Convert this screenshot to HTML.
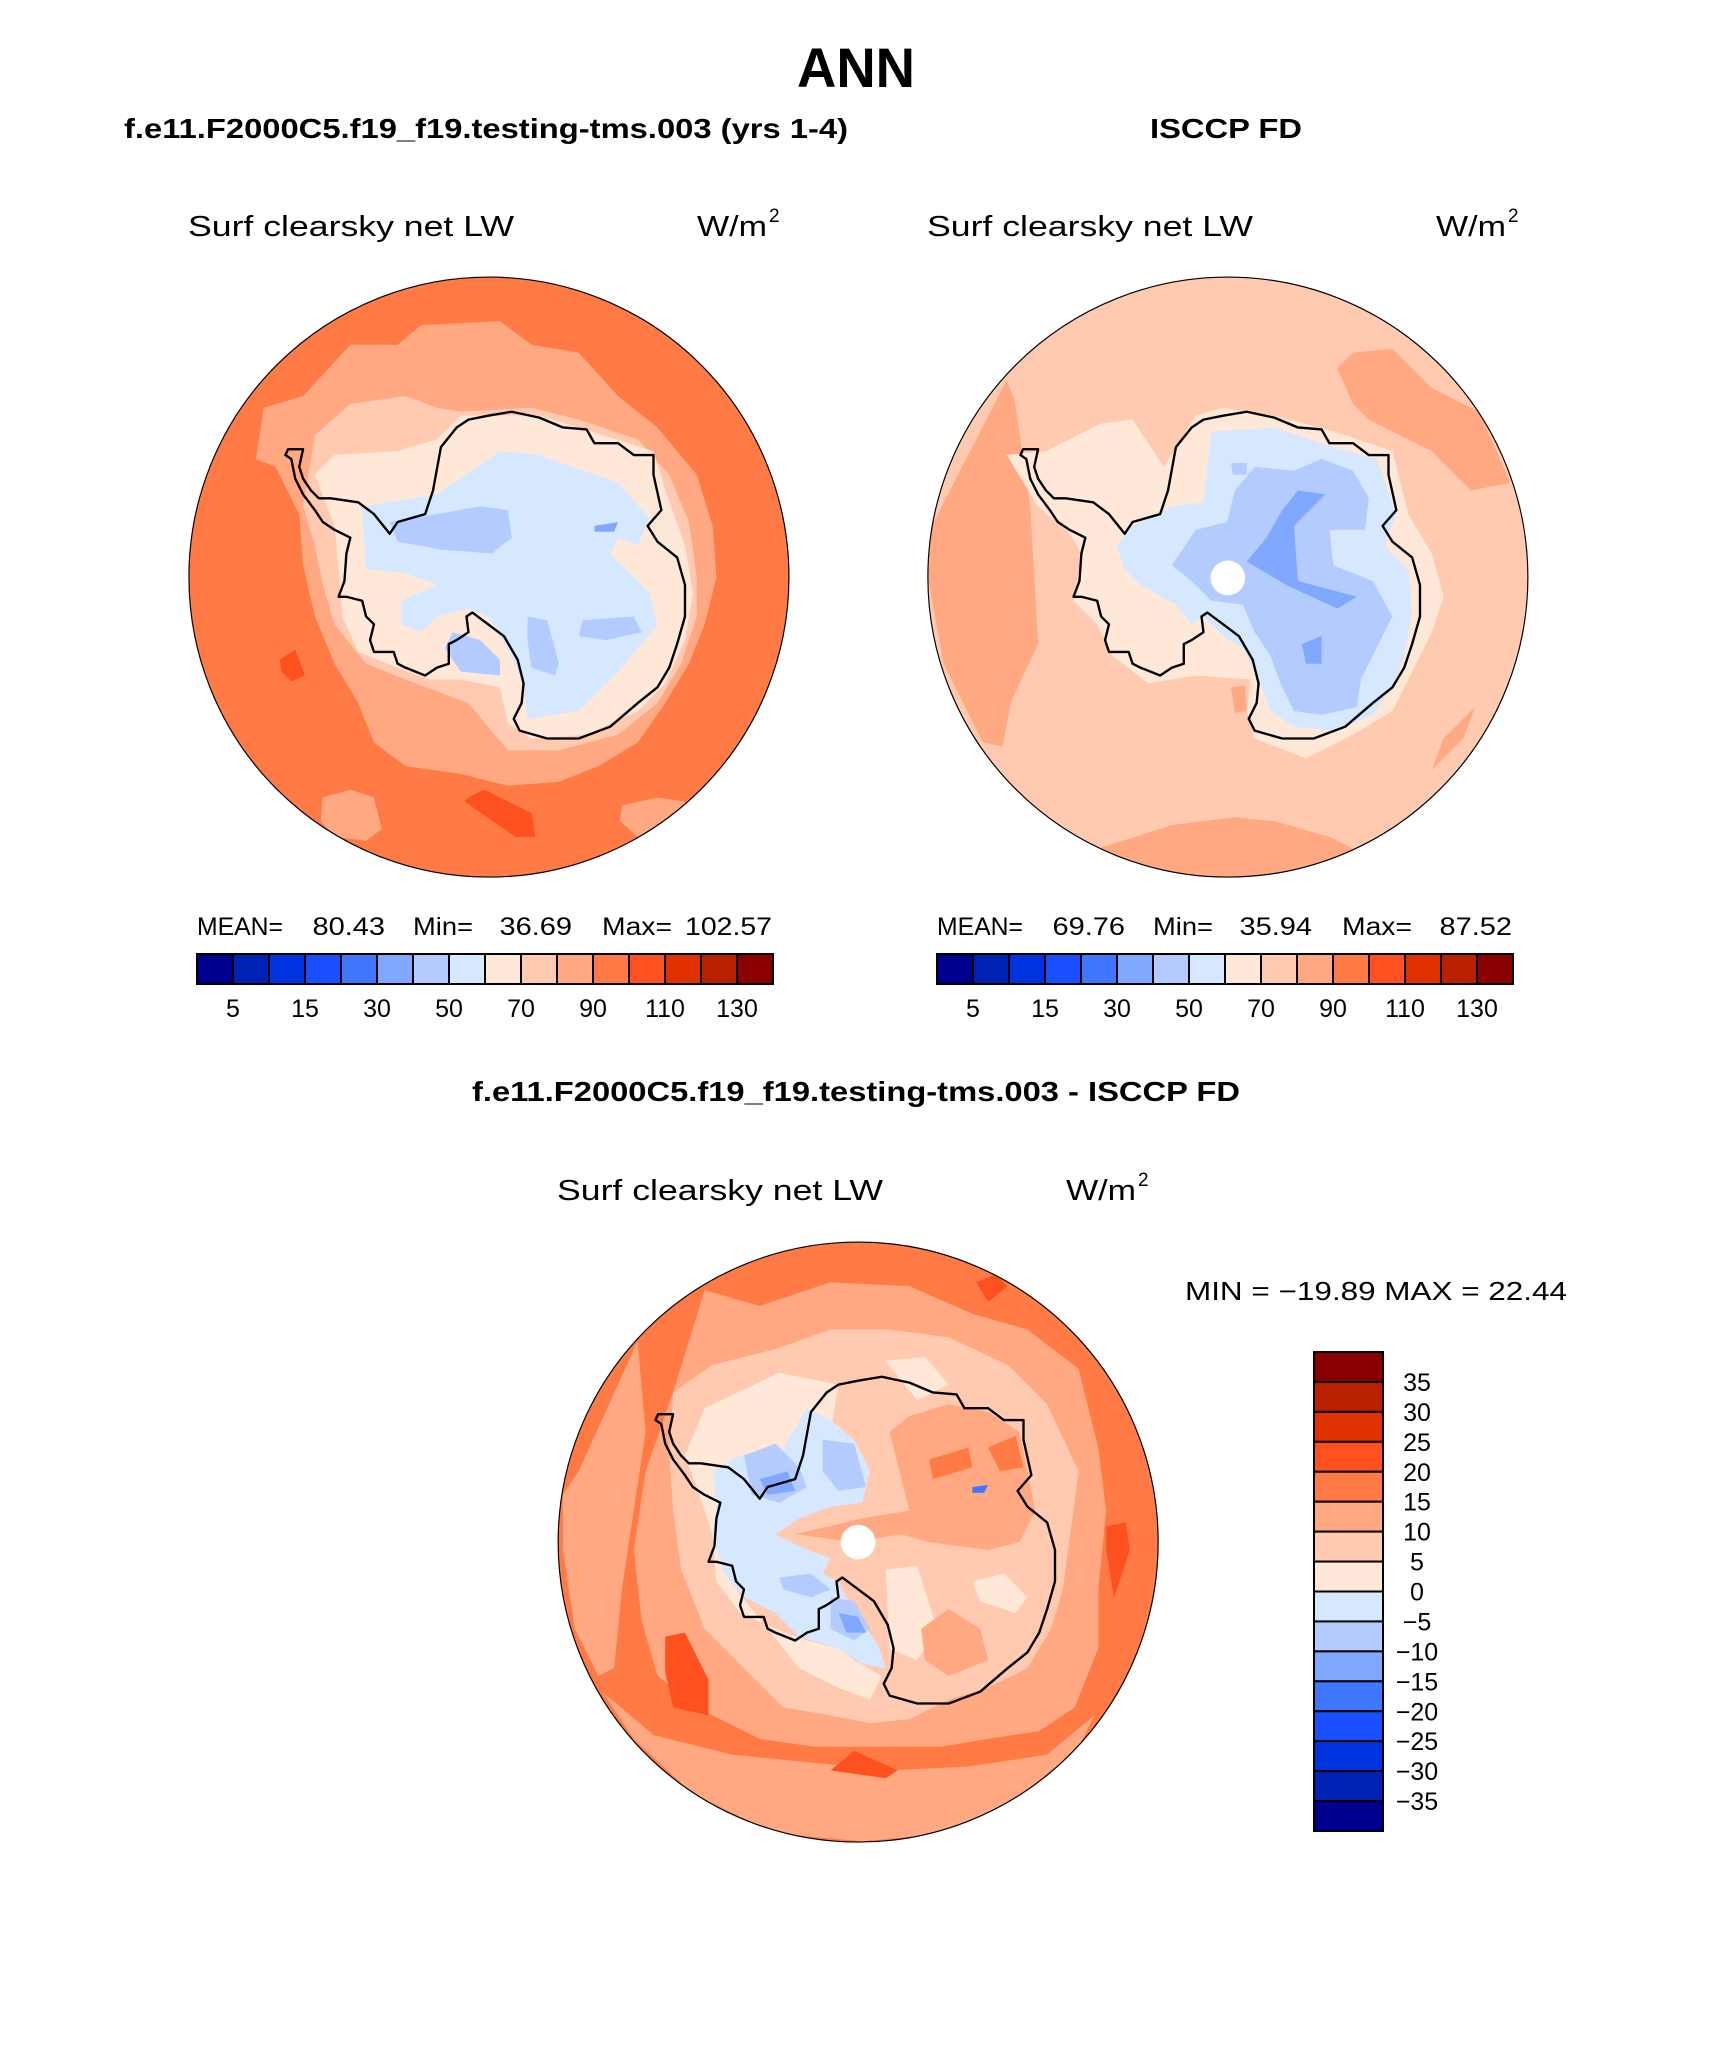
<!DOCTYPE html>
<html><head><meta charset="utf-8">
<style>
html,body{margin:0;padding:0;background:#fff;}
svg{display:block;}
text{font-family:"Liberation Sans",sans-serif;fill:#000;}
</style></head>
<body>
<svg id="fig" width="1710" height="2061" viewBox="0 0 1710 2061" xmlns="http://www.w3.org/2000/svg">
<rect width="1710" height="2061" fill="#fff"/>
<text x="856" y="87" font-size="56" font-weight="bold" text-anchor="middle" textLength="118" lengthAdjust="spacingAndGlyphs">ANN</text>
<text x="124" y="138" font-size="28" font-weight="bold" textLength="724" lengthAdjust="spacingAndGlyphs">f.e11.F2000C5.f19_f19.testing-tms.003 (yrs 1-4)</text>
<text x="1226" y="138" font-size="28" font-weight="bold" text-anchor="middle" textLength="152" lengthAdjust="spacingAndGlyphs">ISCCP FD</text>
<text x="856" y="1101" font-size="28" font-weight="bold" text-anchor="middle" textLength="768" lengthAdjust="spacingAndGlyphs">f.e11.F2000C5.f19_f19.testing-tms.003 - ISCCP FD</text>
<g id="maps"></g>
<g id="bars"></g>
</svg>
<script>
// ---- colorbar data ----
const colors = ["#000090","#0022b4","#0033e0","#1a4fff","#4077ff","#80a8ff","#b3cbff","#d6e8ff","#ffe8d8","#ffcab0","#ffa882","#ff7a45","#ff5020","#e03200","#b82000","#8a0000"];
const absTickLabels = ["5","15","30","50","70","90","110","130"];
const diffTickLabels = ["35","30","25","20","15","10","5","0","\u22125","\u221210","\u221215","\u221220","\u221225","\u221230","\u221235"];
const leftStats = ["80.43","36.69","102.57"];
const rightStats = ["69.76","35.94","87.52"];
const diffStats = ["\u221219.89","22.44"];

const NS="http://www.w3.org/2000/svg";
function mk(tag,attrs,parent){const e=document.createElementNS(NS,tag);for(const k in attrs)e.setAttribute(k,attrs[k]);parent.appendChild(e);return e;}
function txt(parent,x,y,s,size,anchor,len){const t=mk("text",{x:x,y:y,"font-size":size,"text-anchor":anchor||"start"},parent);if(len){t.setAttribute("textLength",len);t.setAttribute("lengthAdjust","spacingAndGlyphs");}t.textContent=s;return t;}

// coastline in local map coordinates (2.54 px per page px)
const coast=[[255,470],[262,455],[300,455],[290,500],[300,530],[320,560],[340,580],[370,580],[440,590],[480,620],[520,670],[540,640],[610,620],[630,560],[650,450],[690,400],[720,380],[770,370],[830,360],[900,375],[960,400],[1020,405],[1040,440],[1100,440],[1140,470],[1190,470],[1190,520],[1210,610],[1175,650],[1200,690],[1250,730],[1270,800],[1270,880],[1250,950],[1230,1010],[1200,1060],[1150,1100],[1080,1160],[1000,1190],[920,1190],[850,1170],[835,1140],[855,1100],[860,1050],[845,990],[810,930],[770,900],[730,870],[715,880],[720,920],[690,940],[670,950],[670,1000],[640,1010],[610,1030],[560,1010],[540,1000],[530,970],[480,970],[470,940],[480,900],[460,880],[450,840],[410,830],[390,830],[405,790],[410,720],[420,680],[380,660],[350,640],[330,610],[300,570],[280,530],[270,480]];

const P=s=>s.trim().split(/\s+/).map(p=>p.split(",").map(Number));
const maps=[
 {name:"model-map",ox:185,oy:270,cx:772,cy:780,base:11,hole:false,layers:[
  [10,"180,480 200,350 300,320 420,190 540,190 600,140 800,130 880,190 1000,210 1100,320 1200,400 1300,520 1340,650 1350,780 1320,900 1280,1000 1220,1100 1150,1200 1050,1260 950,1300 820,1310 700,1280 560,1260 480,1200 440,1100 380,1000 330,880 300,750 290,620 230,500"],
  [10,"350,1340 420,1320 480,1340 500,1420 460,1450 380,1440 345,1400"],
  [10,"1110,1360 1200,1340 1270,1350 1260,1420 1150,1440 1105,1400"],
  [12,"240,990 280,965 305,1030 270,1045 245,1020"],
  [12,"720,1340 760,1320 880,1380 890,1440 840,1440 710,1350"],
  [9,"330,420 420,340 560,320 640,350 700,360 880,350 1000,380 1150,430 1230,520 1280,640 1300,780 1300,880 1260,1000 1200,1100 1100,1180 950,1220 820,1220 720,1100 560,1040 460,1000 380,900 350,800 330,700 300,600"],
  [8,"330,520 380,470 540,460 640,430 700,370 900,370 1030,410 1190,460 1220,560 1270,700 1290,820 1270,940 1220,1050 1150,1120 1020,1180 880,1190 820,1150 800,1060 700,1040 620,1040 540,1010 440,970 400,880 390,760 380,650"],
  [7,"450,600 640,570 800,460 900,470 1100,540 1180,630 1150,700 1100,680 1080,720 1180,820 1200,900 1160,950 1100,1020 1000,1120 870,1140 860,1060 830,980 770,880 720,860 640,880 600,920 550,900 550,840 640,800 560,770 460,760"],
  [6,"520,640 640,620 750,600 820,610 830,680 780,720 650,710 540,690"],
  [6,"870,880 920,890 950,1000 940,1030 880,1010 870,940"],
  [6,"1010,890 1140,880 1160,920 1070,940 1000,930"],
  [6,"680,920 750,940 800,990 800,1030 700,1020 660,960"],
  [5,"1040,650 1100,640 1090,665 1040,665"]
 ]},
 {name:"obs-map",ox:920,oy:270,cx:782,cy:780,base:9,hole:true,hx:782,hy:782,layers:[
  [10,"30,650 220,280 240,330 280,600 300,950 230,1100 210,1210 160,1200 60,1000 20,780"],
  [10,"1060,250 1100,210 1200,200 1300,300 1420,360 1500,540 1400,560 1300,460 1140,380 1100,340"],
  [10,"450,1470 640,1410 800,1390 900,1400 1040,1440 1100,1470 900,1560 600,1560"],
  [10,"790,1060 825,1055 830,1120 800,1125"],
  [10,"1300,1270 1330,1190 1410,1110 1380,1190"],
  [8,"220,470 320,460 460,390 540,380 620,500 700,370 770,350 900,370 1050,410 1200,460 1240,620 1300,720 1330,830 1300,920 1260,1000 1200,1120 1100,1180 980,1240 850,1190 830,1120 840,1040 700,1030 580,1050 490,980 450,900 390,840 410,720 380,670 300,600"],
  [7,"500,700 540,650 640,600 720,590 740,410 900,400 1050,450 1160,480 1210,620 1180,700 1240,760 1250,870 1230,980 1200,1060 1150,1130 1050,1170 950,1160 890,1120 860,1040 820,960 770,930 720,880 690,900 650,850 560,800 520,760"],
  [6,"640,750 700,660 780,640 800,560 850,500 950,510 1020,480 1100,510 1140,580 1130,660 1040,660 1050,750 1150,790 1200,880 1160,960 1120,1040 1110,1110 1020,1130 950,1120 920,1060 890,980 850,920 820,850 740,840 690,790"],
  [6,"790,490 830,490 830,520 795,520"],
  [5,"920,610 960,560 1030,570 950,650 960,790 1110,830 1060,860 930,800 830,740 880,680"],
  [5,"970,950 1020,930 1020,1000 980,1000"]
 ]},
 {name:"diff-map",ox:555,oy:1235,cx:770,cy:780,base:11,hole:true,hx:770,hy:780,layers:[
  [10,"20,660 60,600 210,270 230,500 200,700 170,900 150,1100 110,1120 50,1000 20,800"],
  [10,"300,400 380,140 520,180 700,120 900,130 1060,200 1200,240 1330,340 1380,540 1400,700 1380,900 1380,1050 1320,1200 1230,1260 1100,1280 980,1300 820,1300 660,1300 520,1280 380,1210 260,1120 220,980 200,800 230,600"],
  [10,"120,1160 250,1270 450,1320 650,1340 850,1360 1050,1350 1250,1320 1370,1220 1330,1300 1200,1420 1000,1520 780,1540 560,1520 350,1420 200,1280"],
  [12,"1070,120 1120,100 1150,130 1100,170"],
  [12,"280,1020 330,1010 390,1130 390,1220 300,1200 280,1110"],
  [12,"700,1360 760,1310 870,1360 840,1380"],
  [12,"1400,740 1450,730 1460,800 1420,920 1400,800"],
  [9,"300,400 400,330 560,290 700,240 850,240 1000,260 1150,330 1250,430 1330,600 1310,750 1290,900 1260,1000 1200,1100 1100,1150 1000,1180 900,1230 800,1240 700,1220 580,1200 480,1100 380,1000 320,850 300,700 290,550"],
  [8,"380,440 570,350 720,380 700,500 620,600 560,680 500,720 480,800 460,900 540,1000 620,1100 720,1150 800,1180 830,1120 760,1080 720,1050 640,1030 560,1000 470,960 410,880 400,760 360,640 330,560"],
  [8,"840,320 940,310 1000,380 920,420"],
  [8,"1060,880 1140,860 1200,920 1170,960 1080,930"],
  [8,"980,640 1090,600 1160,700 1120,740 1000,730"],
  [8,"840,850 920,840 970,1000 920,1080 850,1050"],
  [10,"850,500 900,700 780,720 610,760 760,780 880,760 950,780 1100,800 1180,780 1220,700 1180,500 1100,450 1000,430 900,460"],
  [10,"930,1000 1000,950 1080,1000 1100,1080 1000,1120 940,1080"],
  [11,"950,570 1050,540 1060,590 960,620"],
  [11,"1100,540 1170,510 1190,590 1130,600"],
  [7,"400,600 470,560 580,540 640,440 700,470 760,520 800,600 780,680 700,690 620,720 560,760 640,800 700,820 680,860 720,880 760,960 820,1040 840,1100 780,1090 720,1050 620,1020 560,960 480,920 430,860 400,760 410,680"],
  [6,"480,560 560,530 620,590 640,640 570,680 500,660"],
  [6,"680,520 760,530 790,640 720,650 680,600"],
  [6,"570,870 650,860 700,900 650,920 580,900"],
  [6,"700,920 760,930 800,1000 760,1030 700,1000"],
  [5,"520,620 590,600 610,650 540,660"],
  [5,"720,960 770,970 790,1010 740,1010"],
  [4,"1060,640 1100,635 1090,655 1060,655"]
 ]}
];

const mg=document.getElementById("maps");
const R=762;
maps.forEach((m,i)=>{
  const g=mk("g",{transform:`translate(${m.ox},${m.oy}) scale(${1/2.54})`},mg);
  
  
  const cp=mk("clipPath",{id:"clip"+i},g);
  mk("circle",{cx:m.cx,cy:m.cy,r:R},cp);
  const inner=mk("g",{"clip-path":`url(#clip${i})`},g);
  mk("circle",{cx:m.cx,cy:m.cy,r:R,fill:colors[m.base]},inner);
  m.layers.forEach(([ci,pts])=>{
    const poly=mk("polygon",{points:P(pts).map(p=>p.join(",")).join(" "),fill:colors[ci]},inner);
    
    
  });
  const c=mk("polygon",{points:coast.map(p=>p.join(",")).join(" "),fill:"none",stroke:"#000","stroke-width":6,"stroke-linejoin":"round"},inner);
  
  
  if(m.hole){const h=mk("circle",{cx:m.hx,cy:m.hy,r:44,fill:"#fff"},inner);
    
    }
  const b=mk("circle",{cx:m.cx,cy:m.cy,r:R,fill:"none",stroke:"#000","stroke-width":3},g);
  
  
});

// subtitles and colorbars
const bars=document.getElementById("bars");
[[0,0],[739,0],[369,964]].forEach(([dx,dy],k)=>{
  const t1=txt(bars,188+dx,236+dy,"Surf clearsky net LW",29,"start",326);
  
  
  const t2=txt(bars,697+dx,236+dy,"W/m",29,"start",70);
  
  
  const t3=txt(bars,769+dx,222+dy,"2",19,"start");
  
  
});
function hbar(dx,stats,nm){
  const g=mk("g",{},bars);
  
  
  const lab=[["MEAN=",197,86],[stats[0],312,73],["Min=",413,60],[stats[1],501,71],["Max=",602,70],[stats[2],685,87]];
  lab.forEach(([s,x,w],j)=>{
    const w2 = (j%2===1) ? (s.length*14.5) : w;
    const xx = (j%2===1) ? (j===5?772:[385,572][(j-1)/2])-w2 : x;
    const t=txt(g,xx+dx,935,s,25,"start",w2);
    
    
  });
  const x0=197+dx,w=(773-197)/colors.length;
  colors.forEach((c,j)=>{
    const r=mk("rect",{x:x0+j*w,y:954,width:w,height:30,fill:c,stroke:"#000","stroke-width":2},g);
    
    
  });
  absTickLabels.forEach((s,j)=>{
    const t=txt(g,x0+(2*j+1)*w,1017,s,25,"middle");
    
    
  });
}
hbar(0,leftStats,"model-colorbar");
hbar(740,rightStats,"obs-colorbar");

const vg=mk("g",{},bars);


const st=txt(vg,1185,1300,"MIN = "+diffStats[0]+"  MAX =  "+diffStats[1],26,"start",382);


const vh=(1831-1352)/colors.length;
colors.slice().reverse().forEach((c,j)=>{
  const r=mk("rect",{x:1314,y:1352+j*vh,width:69,height:vh,fill:c,stroke:"#000","stroke-width":2},vg);
  
  
});
diffTickLabels.forEach((s,j)=>{
  const t=txt(vg,1417,1352+(j+1)*vh+9,s,25,"middle");
  
  
});
</script>
</body></html>
